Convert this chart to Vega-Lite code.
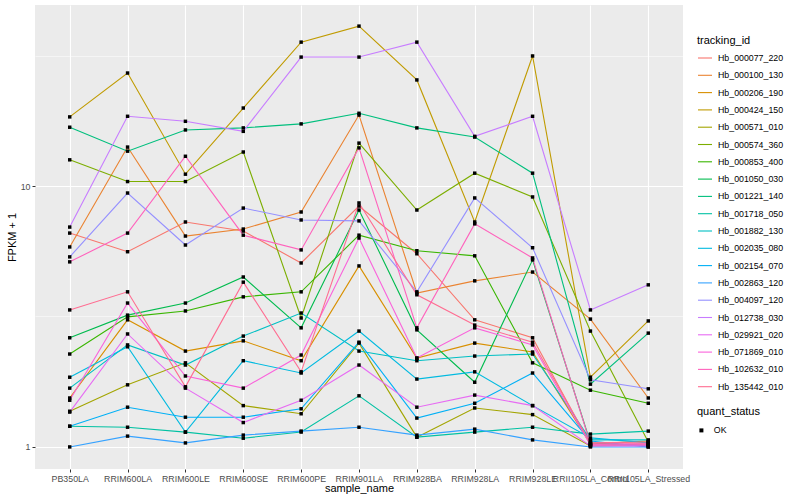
{
"$schema": "https://vega.github.io/schema/vega-lite/v6.json",
"width": 648, "height": 464,
"autosize": {"type": "none"},
"padding": {"left": 35, "top": 5, "right": 117, "bottom": 31},
"background": "white",
"config": {
  "view": {"fill": "#EBEBEB", "stroke": null},
  "font": "Liberation Sans",
  "axis": {"domain": false, "tickColor": "#333333", "tickSize": 3, "tickWidth": 1, "labelColor": "#4D4D4D", "labelFontSize": 8.8, "labelFont": "Liberation Sans", "labelPadding": 2, "gridColor": "white", "gridWidth": 1.1, "titleFontSize": 11, "titleFontWeight": "normal", "titleColor": "black", "titleFont": "Liberation Sans"},
  "legend": {"titleFont": "Liberation Sans", "labelFont": "Liberation Sans", "titleFontWeight": "normal", "titleFontSize": 11, "labelFontSize": 8.8, "labelColor": "black", "titleColor": "black", "padding": 0}
},
"datasets": {"d": [
{"t":"Hb_000077_220","s":"PB350LA","v":6.60,"q":"OK"},{"t":"Hb_000077_220","s":"RRIM600LA","v":5.60,"q":"OK"},{"t":"Hb_000077_220","s":"RRIM600LE","v":7.28,"q":"OK"},{"t":"Hb_000077_220","s":"RRIM600SE","v":6.72,"q":"OK"},{"t":"Hb_000077_220","s":"RRIM600PE","v":5.07,"q":"OK"},{"t":"Hb_000077_220","s":"RRIM901LA","v":8.38,"q":"OK"},{"t":"Hb_000077_220","s":"RRIM928BA","v":5.50,"q":"OK"},{"t":"Hb_000077_220","s":"RRIM928LA","v":3.07,"q":"OK"},{"t":"Hb_000077_220","s":"RRIM928LE","v":2.62,"q":"OK"},{"t":"Hb_000077_220","s":"RRII105LA_Control","v":1.018,"q":"OK"},{"t":"Hb_000077_220","s":"RRII105LA_Stressed","v":1.027,"q":"OK"},
{"t":"Hb_000100_130","s":"PB350LA","v":5.84,"q":"OK"},{"t":"Hb_000100_130","s":"RRIM600LA","v":14.1,"q":"OK"},{"t":"Hb_000100_130","s":"RRIM600LE","v":6.43,"q":"OK"},{"t":"Hb_000100_130","s":"RRIM600SE","v":6.84,"q":"OK"},{"t":"Hb_000100_130","s":"RRIM600PE","v":7.95,"q":"OK"},{"t":"Hb_000100_130","s":"RRIM901LA","v":18.7,"q":"OK"},{"t":"Hb_000100_130","s":"RRIM928BA","v":3.89,"q":"OK"},{"t":"Hb_000100_130","s":"RRIM928LA","v":4.33,"q":"OK"},{"t":"Hb_000100_130","s":"RRIM928LE","v":4.68,"q":"OK"},{"t":"Hb_000100_130","s":"RRII105LA_Control","v":3.09,"q":"OK"},{"t":"Hb_000100_130","s":"RRII105LA_Stressed","v":1.54,"q":"OK"},
{"t":"Hb_000206_190","s":"PB350LA","v":1.54,"q":"OK"},{"t":"Hb_000206_190","s":"RRIM600LA","v":3.07,"q":"OK"},{"t":"Hb_000206_190","s":"RRIM600LE","v":2.33,"q":"OK"},{"t":"Hb_000206_190","s":"RRIM600SE","v":2.55,"q":"OK"},{"t":"Hb_000206_190","s":"RRIM600PE","v":2.14,"q":"OK"},{"t":"Hb_000206_190","s":"RRIM901LA","v":4.94,"q":"OK"},{"t":"Hb_000206_190","s":"RRIM928BA","v":2.19,"q":"OK"},{"t":"Hb_000206_190","s":"RRIM928LA","v":2.50,"q":"OK"},{"t":"Hb_000206_190","s":"RRIM928LE","v":2.31,"q":"OK"},{"t":"Hb_000206_190","s":"RRII105LA_Control","v":1.027,"q":"OK"},{"t":"Hb_000206_190","s":"RRII105LA_Stressed","v":1.054,"q":"OK"},
{"t":"Hb_000424_150","s":"PB350LA","v":18.4,"q":"OK"},{"t":"Hb_000424_150","s":"RRIM600LA","v":27.1,"q":"OK"},{"t":"Hb_000424_150","s":"RRIM600LE","v":11.1,"q":"OK"},{"t":"Hb_000424_150","s":"RRIM600SE","v":19.9,"q":"OK"},{"t":"Hb_000424_150","s":"RRIM600PE","v":35.6,"q":"OK"},{"t":"Hb_000424_150","s":"RRIM901LA","v":41.0,"q":"OK"},{"t":"Hb_000424_150","s":"RRIM928BA","v":25.5,"q":"OK"},{"t":"Hb_000424_150","s":"RRIM928LA","v":7.28,"q":"OK"},{"t":"Hb_000424_150","s":"RRIM928LE","v":31.5,"q":"OK"},{"t":"Hb_000424_150","s":"RRII105LA_Control","v":1.85,"q":"OK"},{"t":"Hb_000424_150","s":"RRII105LA_Stressed","v":3.04,"q":"OK"},
{"t":"Hb_000571_010","s":"PB350LA","v":1.37,"q":"OK"},{"t":"Hb_000571_010","s":"RRIM600LA","v":1.73,"q":"OK"},{"t":"Hb_000571_010","s":"RRIM600LE","v":2.10,"q":"OK"},{"t":"Hb_000571_010","s":"RRIM600SE","v":1.44,"q":"OK"},{"t":"Hb_000571_010","s":"RRIM600PE","v":1.34,"q":"OK"},{"t":"Hb_000571_010","s":"RRIM901LA","v":2.50,"q":"OK"},{"t":"Hb_000571_010","s":"RRIM928BA","v":1.09,"q":"OK"},{"t":"Hb_000571_010","s":"RRIM928LA","v":1.41,"q":"OK"},{"t":"Hb_000571_010","s":"RRIM928LE","v":1.33,"q":"OK"},{"t":"Hb_000571_010","s":"RRII105LA_Control","v":1.009,"q":"OK"},{"t":"Hb_000571_010","s":"RRII105LA_Stressed","v":1.018,"q":"OK"},
{"t":"Hb_000574_360","s":"PB350LA","v":12.6,"q":"OK"},{"t":"Hb_000574_360","s":"RRIM600LA","v":10.4,"q":"OK"},{"t":"Hb_000574_360","s":"RRIM600LE","v":10.4,"q":"OK"},{"t":"Hb_000574_360","s":"RRIM600SE","v":13.5,"q":"OK"},{"t":"Hb_000574_360","s":"RRIM600PE","v":3.12,"q":"OK"},{"t":"Hb_000574_360","s":"RRIM901LA","v":14.6,"q":"OK"},{"t":"Hb_000574_360","s":"RRIM928BA","v":8.09,"q":"OK"},{"t":"Hb_000574_360","s":"RRIM928LA","v":11.2,"q":"OK"},{"t":"Hb_000574_360","s":"RRIM928LE","v":9.08,"q":"OK"},{"t":"Hb_000574_360","s":"RRII105LA_Control","v":2.78,"q":"OK"},{"t":"Hb_000574_360","s":"RRII105LA_Stressed","v":1.045,"q":"OK"},
{"t":"Hb_000853_400","s":"PB350LA","v":2.27,"q":"OK"},{"t":"Hb_000853_400","s":"RRIM600LA","v":3.15,"q":"OK"},{"t":"Hb_000853_400","s":"RRIM600LE","v":3.32,"q":"OK"},{"t":"Hb_000853_400","s":"RRIM600SE","v":3.76,"q":"OK"},{"t":"Hb_000853_400","s":"RRIM600PE","v":3.93,"q":"OK"},{"t":"Hb_000853_400","s":"RRIM901LA","v":6.48,"q":"OK"},{"t":"Hb_000853_400","s":"RRIM928BA","v":5.65,"q":"OK"},{"t":"Hb_000853_400","s":"RRIM928LA","v":5.40,"q":"OK"},{"t":"Hb_000853_400","s":"RRIM928LE","v":2.10,"q":"OK"},{"t":"Hb_000853_400","s":"RRII105LA_Control","v":1.65,"q":"OK"},{"t":"Hb_000853_400","s":"RRII105LA_Stressed","v":1.47,"q":"OK"},
{"t":"Hb_001050_030","s":"PB350LA","v":2.62,"q":"OK"},{"t":"Hb_001050_030","s":"RRIM600LA","v":3.20,"q":"OK"},{"t":"Hb_001050_030","s":"RRIM600LE","v":3.56,"q":"OK"},{"t":"Hb_001050_030","s":"RRIM600SE","v":4.48,"q":"OK"},{"t":"Hb_001050_030","s":"RRIM600PE","v":2.86,"q":"OK"},{"t":"Hb_001050_030","s":"RRIM901LA","v":8.09,"q":"OK"},{"t":"Hb_001050_030","s":"RRIM928BA","v":2.81,"q":"OK"},{"t":"Hb_001050_030","s":"RRIM928LA","v":1.77,"q":"OK"},{"t":"Hb_001050_030","s":"RRIM928LE","v":5.21,"q":"OK"},{"t":"Hb_001050_030","s":"RRII105LA_Control","v":1.036,"q":"OK"},{"t":"Hb_001050_030","s":"RRII105LA_Stressed","v":1.009,"q":"OK"},
{"t":"Hb_001221_140","s":"PB350LA","v":16.8,"q":"OK"},{"t":"Hb_001221_140","s":"RRIM600LA","v":13.6,"q":"OK"},{"t":"Hb_001221_140","s":"RRIM600LE","v":16.4,"q":"OK"},{"t":"Hb_001221_140","s":"RRIM600SE","v":16.7,"q":"OK"},{"t":"Hb_001221_140","s":"RRIM600PE","v":17.3,"q":"OK"},{"t":"Hb_001221_140","s":"RRIM901LA","v":19.0,"q":"OK"},{"t":"Hb_001221_140","s":"RRIM928BA","v":16.7,"q":"OK"},{"t":"Hb_001221_140","s":"RRIM928LA","v":15.4,"q":"OK"},{"t":"Hb_001221_140","s":"RRIM928LE","v":11.2,"q":"OK"},{"t":"Hb_001221_140","s":"RRII105LA_Control","v":1.74,"q":"OK"},{"t":"Hb_001221_140","s":"RRII105LA_Stressed","v":2.73,"q":"OK"},
{"t":"Hb_001718_050","s":"PB350LA","v":1.20,"q":"OK"},{"t":"Hb_001718_050","s":"RRIM600LA","v":1.19,"q":"OK"},{"t":"Hb_001718_050","s":"RRIM600LE","v":1.14,"q":"OK"},{"t":"Hb_001718_050","s":"RRIM600SE","v":1.08,"q":"OK"},{"t":"Hb_001718_050","s":"RRIM600PE","v":1.14,"q":"OK"},{"t":"Hb_001718_050","s":"RRIM901LA","v":1.57,"q":"OK"},{"t":"Hb_001718_050","s":"RRIM928BA","v":1.09,"q":"OK"},{"t":"Hb_001718_050","s":"RRIM928LA","v":1.14,"q":"OK"},{"t":"Hb_001718_050","s":"RRIM928LE","v":1.19,"q":"OK"},{"t":"Hb_001718_050","s":"RRII105LA_Control","v":1.12,"q":"OK"},{"t":"Hb_001718_050","s":"RRII105LA_Stressed","v":1.15,"q":"OK"},
{"t":"Hb_001882_130","s":"PB350LA","v":1.68,"q":"OK"},{"t":"Hb_001882_130","s":"RRIM600LA","v":2.46,"q":"OK"},{"t":"Hb_001882_130","s":"RRIM600LE","v":2.06,"q":"OK"},{"t":"Hb_001882_130","s":"RRIM600SE","v":2.66,"q":"OK"},{"t":"Hb_001882_130","s":"RRIM600PE","v":3.26,"q":"OK"},{"t":"Hb_001882_130","s":"RRIM901LA","v":2.33,"q":"OK"},{"t":"Hb_001882_130","s":"RRIM928BA","v":2.14,"q":"OK"},{"t":"Hb_001882_130","s":"RRIM928LA","v":2.23,"q":"OK"},{"t":"Hb_001882_130","s":"RRIM928LE","v":2.27,"q":"OK"},{"t":"Hb_001882_130","s":"RRII105LA_Control","v":1.064,"q":"OK"},{"t":"Hb_001882_130","s":"RRII105LA_Stressed","v":1.064,"q":"OK"},
{"t":"Hb_002035_080","s":"PB350LA","v":1.85,"q":"OK"},{"t":"Hb_002035_080","s":"RRIM600LA","v":2.42,"q":"OK"},{"t":"Hb_002035_080","s":"RRIM600LE","v":1.14,"q":"OK"},{"t":"Hb_002035_080","s":"RRIM600SE","v":2.14,"q":"OK"},{"t":"Hb_002035_080","s":"RRIM600PE","v":1.92,"q":"OK"},{"t":"Hb_002035_080","s":"RRIM901LA","v":2.78,"q":"OK"},{"t":"Hb_002035_080","s":"RRIM928BA","v":1.82,"q":"OK"},{"t":"Hb_002035_080","s":"RRIM928LA","v":1.94,"q":"OK"},{"t":"Hb_002035_080","s":"RRIM928LE","v":1.44,"q":"OK"},{"t":"Hb_002035_080","s":"RRII105LA_Control","v":1.083,"q":"OK"},{"t":"Hb_002035_080","s":"RRII105LA_Stressed","v":1.036,"q":"OK"},
{"t":"Hb_002154_070","s":"PB350LA","v":1.20,"q":"OK"},{"t":"Hb_002154_070","s":"RRIM600LA","v":1.42,"q":"OK"},{"t":"Hb_002154_070","s":"RRIM600LE","v":1.30,"q":"OK"},{"t":"Hb_002154_070","s":"RRIM600SE","v":1.30,"q":"OK"},{"t":"Hb_002154_070","s":"RRIM600PE","v":1.40,"q":"OK"},{"t":"Hb_002154_070","s":"RRIM901LA","v":2.52,"q":"OK"},{"t":"Hb_002154_070","s":"RRIM928BA","v":1.29,"q":"OK"},{"t":"Hb_002154_070","s":"RRIM928LA","v":1.47,"q":"OK"},{"t":"Hb_002154_070","s":"RRIM928LE","v":1.92,"q":"OK"},{"t":"Hb_002154_070","s":"RRII105LA_Control","v":1.054,"q":"OK"},{"t":"Hb_002154_070","s":"RRII105LA_Stressed","v":1.0,"q":"OK"},
{"t":"Hb_002863_120","s":"PB350LA","v":1.0,"q":"OK"},{"t":"Hb_002863_120","s":"RRIM600LA","v":1.10,"q":"OK"},{"t":"Hb_002863_120","s":"RRIM600LE","v":1.036,"q":"OK"},{"t":"Hb_002863_120","s":"RRIM600SE","v":1.11,"q":"OK"},{"t":"Hb_002863_120","s":"RRIM600PE","v":1.15,"q":"OK"},{"t":"Hb_002863_120","s":"RRIM901LA","v":1.19,"q":"OK"},{"t":"Hb_002863_120","s":"RRIM928BA","v":1.11,"q":"OK"},{"t":"Hb_002863_120","s":"RRIM928LA","v":1.17,"q":"OK"},{"t":"Hb_002863_120","s":"RRIM928LE","v":1.064,"q":"OK"},{"t":"Hb_002863_120","s":"RRII105LA_Control","v":1.0,"q":"OK"},{"t":"Hb_002863_120","s":"RRII105LA_Stressed","v":1.0,"q":"OK"},
{"t":"Hb_004097_120","s":"PB350LA","v":5.35,"q":"OK"},{"t":"Hb_004097_120","s":"RRIM600LA","v":9.40,"q":"OK"},{"t":"Hb_004097_120","s":"RRIM600LE","v":5.94,"q":"OK"},{"t":"Hb_004097_120","s":"RRIM600SE","v":8.23,"q":"OK"},{"t":"Hb_004097_120","s":"RRIM600PE","v":7.41,"q":"OK"},{"t":"Hb_004097_120","s":"RRIM901LA","v":7.35,"q":"OK"},{"t":"Hb_004097_120","s":"RRIM928BA","v":3.93,"q":"OK"},{"t":"Hb_004097_120","s":"RRIM928LA","v":9.00,"q":"OK"},{"t":"Hb_004097_120","s":"RRIM928LE","v":5.80,"q":"OK"},{"t":"Hb_004097_120","s":"RRII105LA_Control","v":1.81,"q":"OK"},{"t":"Hb_004097_120","s":"RRII105LA_Stressed","v":1.67,"q":"OK"},
{"t":"Hb_012738_030","s":"PB350LA","v":6.96,"q":"OK"},{"t":"Hb_012738_030","s":"RRIM600LA","v":18.5,"q":"OK"},{"t":"Hb_012738_030","s":"RRIM600LE","v":17.7,"q":"OK"},{"t":"Hb_012738_030","s":"RRIM600SE","v":16.2,"q":"OK"},{"t":"Hb_012738_030","s":"RRIM600PE","v":31.2,"q":"OK"},{"t":"Hb_012738_030","s":"RRIM901LA","v":31.2,"q":"OK"},{"t":"Hb_012738_030","s":"RRIM928BA","v":35.6,"q":"OK"},{"t":"Hb_012738_030","s":"RRIM928LA","v":15.5,"q":"OK"},{"t":"Hb_012738_030","s":"RRIM928LE","v":18.5,"q":"OK"},{"t":"Hb_012738_030","s":"RRII105LA_Control","v":3.35,"q":"OK"},{"t":"Hb_012738_030","s":"RRII105LA_Stressed","v":4.18,"q":"OK"},
{"t":"Hb_029921_020","s":"PB350LA","v":1.36,"q":"OK"},{"t":"Hb_029921_020","s":"RRIM600LA","v":2.71,"q":"OK"},{"t":"Hb_029921_020","s":"RRIM600LE","v":1.68,"q":"OK"},{"t":"Hb_029921_020","s":"RRIM600SE","v":1.24,"q":"OK"},{"t":"Hb_029921_020","s":"RRIM600PE","v":1.51,"q":"OK"},{"t":"Hb_029921_020","s":"RRIM901LA","v":2.06,"q":"OK"},{"t":"Hb_029921_020","s":"RRIM928BA","v":1.42,"q":"OK"},{"t":"Hb_029921_020","s":"RRIM928LA","v":1.58,"q":"OK"},{"t":"Hb_029921_020","s":"RRIM928LE","v":1.44,"q":"OK"},{"t":"Hb_029921_020","s":"RRII105LA_Control","v":1.009,"q":"OK"},{"t":"Hb_029921_020","s":"RRII105LA_Stressed","v":1.009,"q":"OK"},
{"t":"Hb_071869_010","s":"PB350LA","v":1.51,"q":"OK"},{"t":"Hb_071869_010","s":"RRIM600LA","v":3.56,"q":"OK"},{"t":"Hb_071869_010","s":"RRIM600LE","v":1.87,"q":"OK"},{"t":"Hb_071869_010","s":"RRIM600SE","v":1.68,"q":"OK"},{"t":"Hb_071869_010","s":"RRIM600PE","v":2.25,"q":"OK"},{"t":"Hb_071869_010","s":"RRIM901LA","v":6.32,"q":"OK"},{"t":"Hb_071869_010","s":"RRIM928BA","v":2.19,"q":"OK"},{"t":"Hb_071869_010","s":"RRIM928LA","v":2.86,"q":"OK"},{"t":"Hb_071869_010","s":"RRIM928LE","v":2.46,"q":"OK"},{"t":"Hb_071869_010","s":"RRII105LA_Control","v":1.018,"q":"OK"},{"t":"Hb_071869_010","s":"RRII105LA_Stressed","v":1.018,"q":"OK"},
{"t":"Hb_102632_010","s":"PB350LA","v":5.12,"q":"OK"},{"t":"Hb_102632_010","s":"RRIM600LA","v":6.60,"q":"OK"},{"t":"Hb_102632_010","s":"RRIM600LE","v":13.0,"q":"OK"},{"t":"Hb_102632_010","s":"RRIM600SE","v":6.48,"q":"OK"},{"t":"Hb_102632_010","s":"RRIM600PE","v":5.69,"q":"OK"},{"t":"Hb_102632_010","s":"RRIM901LA","v":14.0,"q":"OK"},{"t":"Hb_102632_010","s":"RRIM928BA","v":2.86,"q":"OK"},{"t":"Hb_102632_010","s":"RRIM928LA","v":7.16,"q":"OK"},{"t":"Hb_102632_010","s":"RRIM928LE","v":5.30,"q":"OK"},{"t":"Hb_102632_010","s":"RRII105LA_Control","v":1.027,"q":"OK"},{"t":"Hb_102632_010","s":"RRII105LA_Stressed","v":1.027,"q":"OK"},
{"t":"Hb_135442_010","s":"PB350LA","v":3.35,"q":"OK"},{"t":"Hb_135442_010","s":"RRIM600LA","v":3.93,"q":"OK"},{"t":"Hb_135442_010","s":"RRIM600LE","v":1.70,"q":"OK"},{"t":"Hb_135442_010","s":"RRIM600SE","v":4.28,"q":"OK"},{"t":"Hb_135442_010","s":"RRIM600PE","v":1.94,"q":"OK"},{"t":"Hb_135442_010","s":"RRIM901LA","v":8.61,"q":"OK"},{"t":"Hb_135442_010","s":"RRIM928BA","v":3.83,"q":"OK"},{"t":"Hb_135442_010","s":"RRIM928LA","v":2.93,"q":"OK"},{"t":"Hb_135442_010","s":"RRIM928LE","v":2.52,"q":"OK"},{"t":"Hb_135442_010","s":"RRII105LA_Control","v":1.036,"q":"OK"},{"t":"Hb_135442_010","s":"RRII105LA_Stressed","v":1.045,"q":"OK"}
]},
"data": {"name": "d"},
"encoding": {
  "x": {"field": "s", "type": "nominal", "title": "sample_name",
        "sort": ["PB350LA","RRIM600LA","RRIM600LE","RRIM600SE","RRIM600PE","RRIM901LA","RRIM928BA","RRIM928LA","RRIM928LE","RRII105LA_Control","RRII105LA_Stressed"],
        "scale": {"type": "point", "padding": 0.6},
        "axis": {"labelAngle": 0, "labelOverlap": false, "labelBound": false, "labelFlush": false, "grid": true, "titlePadding": 0}},
  "y": {"field": "v", "type": "quantitative", "title": "FPKM + 1",
        "scale": {"type": "log", "domain": [0.823, 49.4], "nice": false, "zero": false},
        "axis": {"values": [1, 3.1623, 10, 31.623],
                 "labelExpr": "datum.value == 1 ? '1' : (datum.value == 10 ? '10' : '')",
                 "gridWidth": {"condition": {"test": "datum.value == 1 || datum.value == 10", "value": 1.1}, "value": 0.5},
                 "tickOpacity": {"condition": {"test": "datum.value == 1 || datum.value == 10", "value": 1}, "value": 0},
                 "titlePadding": 3}}
},
"layer": [
  {"mark": {"type": "line", "strokeWidth": 1.1},
   "encoding": {"color": {"field": "t", "type": "nominal",
      "scale": {"domain": ["Hb_000077_220","Hb_000100_130","Hb_000206_190","Hb_000424_150","Hb_000571_010","Hb_000574_360","Hb_000853_400","Hb_001050_030","Hb_001221_140","Hb_001718_050","Hb_001882_130","Hb_002035_080","Hb_002154_070","Hb_002863_120","Hb_004097_120","Hb_012738_030","Hb_029921_020","Hb_071869_010","Hb_102632_010","Hb_135442_010"],
                "range": ["#F8766D","#EA8331","#D89000","#C09B00","#A3A500","#7CAE00","#39B600","#00BB4E","#00BF7D","#00C1A3","#00BFC4","#00BAE0","#00B0F6","#35A2FF","#9590FF","#C77CFF","#E76BF3","#FA62DB","#FF62BC","#FF6C91"]},
      "legend": {"title": "tracking_id", "orient": "none", "legendX": 662, "legendY": 30, "symbolType": "stroke", "symbolSize": 196, "symbolStrokeWidth": 1.1, "rowPadding": 4.3, "titlePadding": 4, "labelOffset": 5}}}},
  {"mark": {"type": "point", "filled": true, "color": "black", "size": 12, "opacity": 1},
   "encoding": {"shape": {"field": "q", "type": "nominal", "scale": {"range": ["square"]},
      "legend": {"title": "quant_status", "orient": "none", "legendX": 662, "legendY": 401, "symbolSize": 16, "symbolFillColor": "black", "symbolStrokeColor": "black", "titlePadding": 9, "labelOffset": 8}}}}
]
}
